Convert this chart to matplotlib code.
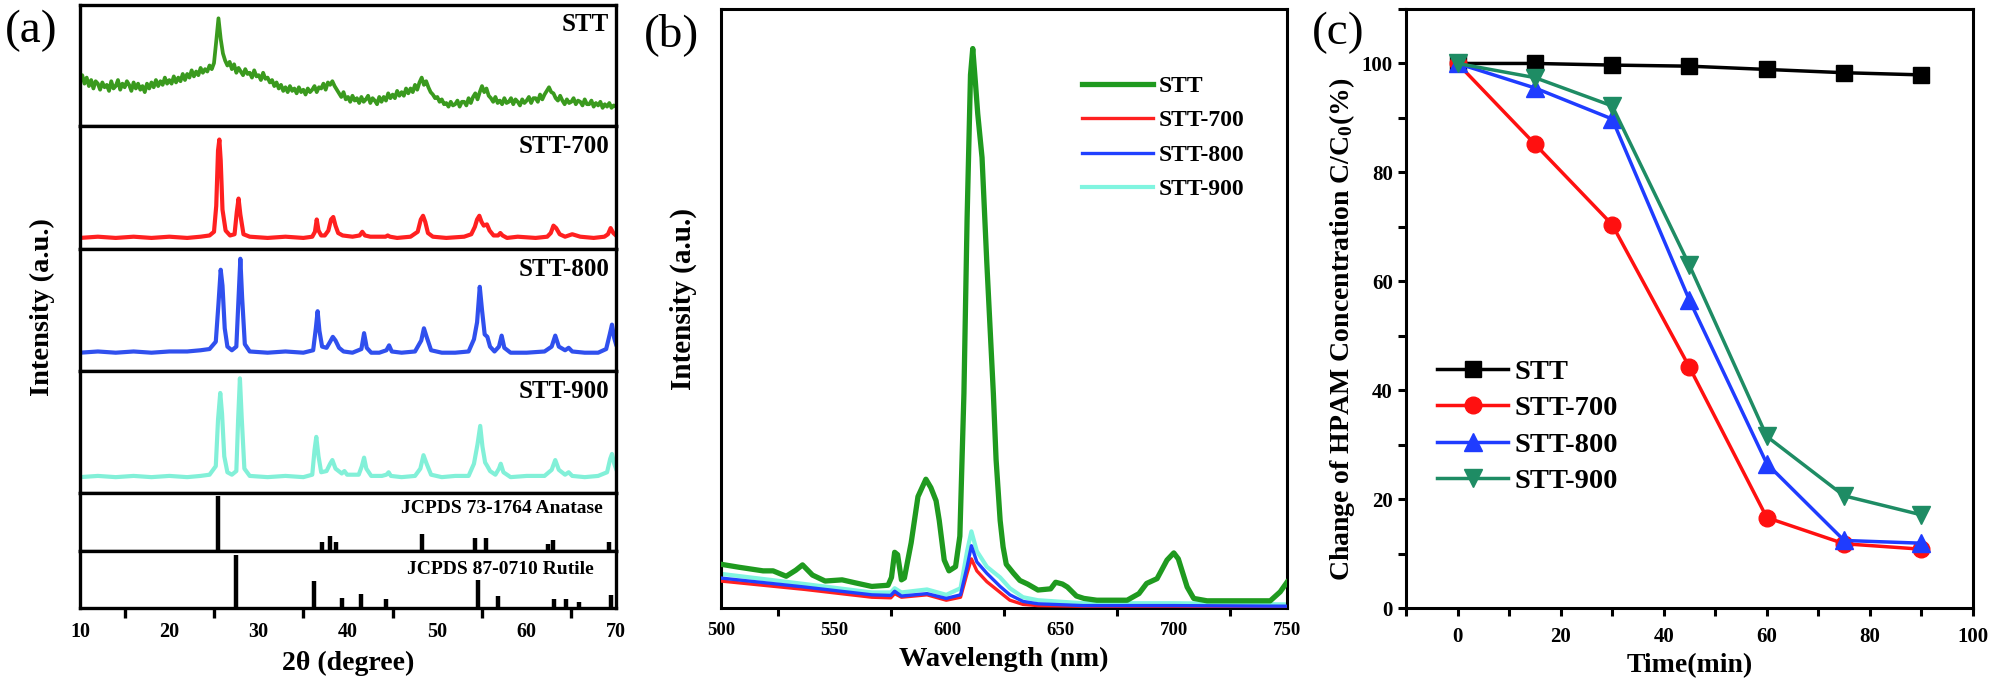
import numpy as np
import matplotlib.pyplot as plt
from matplotlib.ticker import MultipleLocator

plt.rcParams['font.family'] = ['Liberation Serif', 'DejaVu Serif']
plt.rcParams['font.weight'] = 'bold'
plt.rcParams['mathtext.fontset'] = 'custom'
plt.rcParams['mathtext.rm'] = 'Liberation Serif:bold'
plt.rcParams['mathtext.it'] = 'Liberation Serif:bold'

# ---------------- (a) XRD data (intensity in % of each strip) ----------------
xrd_grid = np.arange(10, 70.001, 0.25)
stt_xrd = [38, 42, 35, 40, 33, 38, 31, 37, 35, 30, 36, 32, 34, 29, 37, 31,
           33, 38, 30, 35, 32, 37, 34, 29, 36, 31, 35, 30, 33, 28, 35, 31,
           36, 32, 38, 33, 37, 34, 40, 35, 38, 35, 41, 36, 40, 37, 43, 38,
           43, 40, 46, 41, 45, 42, 48, 44, 47, 45, 50, 47, 52, 70, 89, 72,
           60, 54, 50, 53, 47, 51, 44, 48, 45, 42, 47, 43, 44, 40, 46, 41,
           42, 38, 44, 39, 40, 36, 38, 33, 36, 31, 34, 29, 32, 28, 33, 29,
           31, 27, 32, 28, 30, 26, 31, 28, 30, 33, 28, 32, 31, 35, 30, 36,
           34, 37, 33, 30, 27, 24, 28, 22, 24, 20, 25, 21, 23, 19, 24, 20,
           22, 25, 19, 23, 21, 18, 24, 20, 24, 21, 27, 23, 26, 23, 29, 25,
           28, 25, 31, 27, 31, 28, 34, 30, 36, 40, 34, 37, 32, 28, 26, 23,
           24, 20, 22, 18, 19, 16, 20, 17, 18, 21, 16, 20, 20, 17, 23, 19,
           24, 27, 22, 28, 33, 28, 31, 25, 23, 20, 24, 19, 21, 18, 23, 19,
           20, 23, 18, 22, 20, 17, 22, 19, 21, 24, 19, 23, 23, 20, 26, 22,
           26, 29, 32, 28, 27, 23, 21, 25, 21, 18, 22, 19, 20, 23, 18, 21,
           20, 17, 22, 18, 18, 21, 16, 19, 17, 20, 15, 18, 16, 19, 15, 17, 16]

stt700_pts = [(10, 9), (12, 10), (14, 9), (16, 10), (18, 9), (20, 10), (22, 9),
              (23.5, 10), (24.5, 11), (25.0, 14), (25.25, 35), (25.45, 80),
              (25.6, 89), (25.75, 72), (25.95, 32), (26.3, 15), (26.8, 11),
              (27.3, 12), (27.55, 30), (27.75, 41), (27.95, 28), (28.3, 12),
              (29, 10), (31, 9), (33, 10), (35, 9), (36.0, 10), (36.3, 14),
              (36.5, 24), (36.7, 15), (37.0, 11), (37.4, 11), (37.8, 15),
              (38.1, 24), (38.35, 26), (38.6, 19), (38.9, 13), (39.4, 11),
              (40.5, 10), (41.3, 11), (41.6, 14), (41.9, 11), (42.5, 10),
              (43.5, 10), (44.2, 10), (44.45, 11), (44.7, 10), (45.5, 9),
              (47, 10), (47.8, 14), (48.15, 24), (48.4, 27), (48.65, 22),
              (48.95, 13), (49.5, 10), (51, 9), (53, 10), (53.8, 12), (54.2, 18),
              (54.45, 24), (54.7, 27), (54.95, 22), (55.2, 19), (55.55, 20),
              (55.85, 15), (56.3, 11), (56.8, 11), (57.05, 13), (57.3, 11),
              (57.8, 9), (59, 10), (61, 9), (62.3, 10), (62.7, 13), (63.0, 19),
              (63.3, 17), (63.7, 12), (64.3, 10), (64.7, 11), (65.1, 12),
              (66, 10), (67.5, 9), (68.7, 10), (69.1, 12), (69.4, 17),
              (69.7, 13), (70, 11)]

stt800_pts = [(10, 15), (12, 16), (14, 15), (16, 16), (18, 15), (20, 16), (22, 16),
              (23.5, 17), (24.5, 18), (25.2, 24), (25.5, 55), (25.75, 83),
              (25.95, 70), (26.2, 35), (26.5, 20), (27.0, 17), (27.5, 20),
              (27.75, 60), (27.95, 92), (28.15, 60), (28.45, 22), (29, 16),
              (31, 15), (33, 16), (35, 15), (36.1, 17), (36.4, 35), (36.6, 49),
              (36.8, 33), (37.1, 20), (37.6, 19), (38.0, 24), (38.3, 28),
              (38.6, 25), (39.0, 19), (39.5, 16), (40.5, 15), (41.5, 18),
              (41.8, 31), (42.1, 19), (42.6, 15), (43.5, 15), (44.3, 17),
              (44.6, 21), (44.9, 16), (46, 15), (47.5, 16), (48.2, 25), (48.5, 35),
              (48.8, 28), (49.3, 17), (50.5, 15), (52, 15), (53.5, 16), (54.1, 26),
              (54.45, 40), (54.75, 69), (55.0, 50), (55.3, 30), (55.6, 28),
              (55.9, 20), (56.4, 16), (56.9, 20), (57.2, 29), (57.5, 19),
              (58.2, 15), (60, 15), (62, 16), (62.8, 20), (63.2, 29), (63.6, 20),
              (64.3, 17), (64.7, 19), (65.1, 16), (66.5, 15), (68, 15),
              (68.9, 18), (69.3, 30), (69.55, 38), (69.8, 27), (70, 22)]

stt900_pts = [(10, 13), (12, 14), (14, 13), (16, 14), (18, 13), (20, 14), (22, 13),
              (23.5, 14), (24.5, 15), (25.2, 22), (25.45, 60), (25.7, 82),
              (25.9, 65), (26.15, 30), (26.5, 17), (27.0, 15), (27.5, 18),
              (27.7, 60), (27.9, 94), (28.1, 62), (28.4, 20), (29, 14), (31, 13),
              (33, 14), (35, 13), (36.0, 15), (36.25, 35), (36.45, 46), (36.7, 30),
              (37.0, 17), (37.6, 18), (38.0, 24), (38.25, 27), (38.6, 20),
              (39.3, 16), (39.6, 18), (39.9, 15), (41.2, 15), (41.55, 22),
              (41.8, 29), (42.05, 20), (42.6, 14), (43.8, 14), (44.3, 15),
              (44.55, 17), (44.8, 14), (46, 13), (47.5, 14), (48.1, 20),
              (48.45, 31), (48.8, 24), (49.3, 15), (50.5, 13), (52, 14),
              (53.5, 14), (54.1, 24), (54.5, 40), (54.8, 55), (55.05, 38),
              (55.35, 25), (55.6, 22), (55.9, 18), (56.5, 15), (56.9, 20),
              (57.1, 24), (57.4, 17), (58.2, 13), (60, 14), (62, 14), (62.8, 19),
              (63.2, 27), (63.6, 19), (64.3, 15), (64.7, 17), (65.1, 14),
              (66.5, 13), (68, 14), (69.0, 17), (69.35, 28), (69.55, 32),
              (69.8, 24), (70, 20)]

anatase_pos = [25.4, 37.1, 38.0, 38.7, 48.3, 54.2, 55.4, 62.4, 62.9, 69.2]
anatase_int = [94, 16, 26, 16, 30, 22, 22, 12, 19, 15]
rutile_pos = [27.5, 36.2, 39.3, 41.4, 44.2, 54.6, 56.8, 63.1, 64.4, 65.9, 69.4]
rutile_int = [93, 48, 17, 25, 15, 50, 21, 16, 16, 10, 23]

xrd_names = ['STT', 'STT-700', 'STT-800', 'STT-900']
xrd_colors = ['#3a9a1e', '#ff2020', '#3050ee', '#82f0d8']

# ---------------- (b) PL data (% of axis height) ----------------
pl_green_x = [500, 508, 518.6, 523, 528.8, 533, 536, 540.4, 546, 553.5,
              559.3, 566.6, 573.8, 575.3, 576.7, 578, 579.7, 581, 584, 587,
              590.5, 592.7, 595, 596.4, 598.6, 600.7, 603.6, 605.5, 607.3, 608.7,
              610.2, 611.2, 612.4, 613.4, 615.3, 617.4, 620.3, 621.5, 623.3, 624.6,
              626, 629.2, 632, 635.4, 640, 645.6, 647.8, 650.8, 653, 657,
              660.3, 666, 679.4, 684.6, 688, 692.6, 697, 700, 702, 705.9,
              708.8, 714.7, 727.5, 742.6, 747, 750]
pl_green_y = [7.3, 6.8, 6.2, 6.2, 5.3, 6.3, 7.2, 5.5, 4.5, 4.7,
              4.2, 3.6, 3.8, 5.1, 9.3, 8.9, 4.7, 5.0, 10.9, 18.6,
              21.5, 20.1, 17.9, 14.6, 8.0, 6.2, 6.9, 12.0, 35.8, 65,
              89, 93.4, 87.6, 82.5, 75.2, 57.7, 35.8, 24.8, 14.6, 10.2,
              7.3, 5.8, 4.6, 4.0, 3.0, 3.2, 4.3, 4.0, 3.5, 2.0,
              1.6, 1.3, 1.3, 2.4, 4.1, 4.9, 8.0, 9.2, 8.2, 3.5,
              1.6, 1.2, 1.2, 1.2, 2.7, 4.3]
pl_x = [500, 537, 566.6, 575, 576.7, 579.7, 591, 599.5, 605.8, 608.7,
        610.6, 613, 617.4, 623.3, 627.6, 633.4, 640, 660, 700, 750]
pl_700 = [4.5, 3.1, 1.8, 1.7, 2.4, 1.8, 2.2, 1.3, 1.8, 5.8,
          8.2, 6.2, 4.4, 2.6, 1.3, 0.6, 0.4, 0.3, 0.3, 0.2]
pl_800 = [5.0, 3.5, 2.2, 2.1, 2.8, 2.0, 2.4, 1.6, 2.2, 6.9,
          10.4, 7.7, 5.8, 3.6, 2.2, 1.1, 0.7, 0.4, 0.4, 0.3]
pl_900 = [5.7, 4.0, 2.6, 2.6, 3.3, 2.6, 3.1, 2.2, 3.3, 9.5,
          12.8, 9.5, 6.9, 5.1, 3.3, 1.8, 1.3, 0.8, 0.8, 0.6]

# ---------------- (c) degradation data ----------------
time_min = [0, 15, 30, 45, 60, 75, 90]
c_stt = [100, 100, 99.7, 99.5, 98.9, 98.3, 97.9]
c_700 = [100, 85.2, 70.4, 44.2, 16.6, 11.8, 10.8]
c_800 = [100, 95.5, 89.8, 56.5, 26.5, 12.4, 11.9]
c_900 = [100, 97.4, 92.2, 62.9, 31.5, 20.6, 17.1]

W, H = 1996, 684
fig = plt.figure(figsize=(W / 100, H / 100), dpi=100)


def box(l, t, r, b):
    return [l / W, 1 - b / H, (r - l) / W, (b - t) / H]


# ---------------- panel (a) ----------------
tops = [5, 126, 249, 371, 493, 551]
bots = [126, 249, 371, 493, 551, 608]
axs = [fig.add_axes(box(80, t, 616, b)) for t, b in zip(tops, bots)]
for ax in axs:
    ax.set_xlim(10, 70)
    ax.set_ylim(0, 100)
    ax.set_yticks([])
    for s in ax.spines.values():
        s.set_linewidth(2.4)
    ax.tick_params(axis='x', which='both', bottom=False, labelbottom=False)

axs[0].plot(xrd_grid, stt_xrd, color=xrd_colors[0], lw=2.7)
for ax, pts, c in zip(axs[1:4], [stt700_pts, stt800_pts, stt900_pts], xrd_colors[1:]):
    xx, yy = zip(*pts)
    ax.plot(xx, yy, color=c, lw=3.0)
for ax, name in zip(axs[:4], xrd_names):
    ax.text(0.987, 0.835, name, transform=ax.transAxes, ha='right', va='center',
            fontsize=18, fontweight='bold')

axs[4].vlines(anatase_pos, 0, anatase_int, color='black', lw=3.2)
axs[4].text(0.787, 0.74, 'JCPDS 73-1764 Anatase', transform=axs[4].transAxes,
            ha='center', va='center', fontsize=14, fontweight='bold')
axs[5].vlines(rutile_pos, 0, rutile_int, color='black', lw=3.2)
axs[5].text(0.785, 0.684, 'JCPDS 87-0710 Rutile', transform=axs[5].transAxes,
            ha='center', va='center', fontsize=14, fontweight='bold')

ab = axs[5]
ab.tick_params(axis='x', which='both', bottom=True, labelbottom=True,
               direction='out', labelsize=14.5, width=2.4)
ab.tick_params(axis='x', which='major', length=0, pad=10)
ab.tick_params(axis='x', which='minor', length=7)
ab.xaxis.set_major_locator(MultipleLocator(10))
ab.xaxis.set_minor_locator(MultipleLocator(5))
fig.text(348 / W, 1 - 663 / H, '2θ (degree)', ha='center', va='center',
         fontsize=20, fontweight='bold')
fig.text(42 / W, 1 - 307 / H, 'Intensity (a.u.)', ha='center', va='center',
         rotation=90, fontsize=20.5, fontweight='bold')
fig.text(31 / W, 1 - 31 / H, '(a)', ha='center', va='center', fontsize=34,
         fontweight='normal')

# ---------------- panel (b) ----------------
bx = fig.add_axes(box(721, 9, 1287, 608))
bx.plot(pl_x, pl_700, color='#ff2020', lw=2.4, label='STT-700', zorder=3)
bx.plot(pl_x, pl_800, color='#2040ff', lw=2.4, label='STT-800', zorder=3)
bx.plot(pl_x, pl_900, color='#80f5e0', lw=3.0, label='STT-900', zorder=2)
bx.plot(pl_green_x, pl_green_y, color='#1f9a1f', lw=3.8, label='STT', zorder=4)
bx.set_xlim(500, 750)
bx.set_ylim(0, 100)
bx.set_yticks([])
for s in bx.spines.values():
    s.set_linewidth(2.2)
bx.xaxis.set_major_locator(MultipleLocator(50))
bx.xaxis.set_minor_locator(MultipleLocator(25))
bx.tick_params(axis='x', which='major', length=0, pad=10, labelsize=13.5)
bx.tick_params(axis='x', which='minor', length=6, width=2.2, direction='out')
h, l = bx.get_legend_handles_labels()
order = [3, 0, 1, 2]
bx.legend([h[i] for i in order], [l[i] for i in order], loc='center left',
          bbox_to_anchor=(0.638, 0.785), frameon=False, fontsize=17,
          handlelength=3.0, handletextpad=0.25, labelspacing=0.55,
          borderaxespad=0, borderpad=0)
bx.set_xlabel('Wavelength (nm)', fontsize=20.5, fontweight='bold', labelpad=6)
fig.text(683 / W, 1 - 299 / H, 'Intensity (a.u.)', ha='center', va='center',
         rotation=90, fontsize=21, fontweight='bold')
fig.text(672 / W, 1 - 35 / H, '(b)', ha='center', va='center', fontsize=34,
         fontweight='normal')

# ---------------- panel (c) ----------------
cx = fig.add_axes(box(1406, 9, 1973, 608))
cx.plot(time_min, c_stt, color='black', lw=2.5, marker='s', ms=11, label='STT')
cx.plot(time_min, c_700, color='#ff1010', lw=2.5, marker='o', ms=12, label='STT-700')
cx.plot(time_min, c_800, color='#1f3cff', lw=2.5, marker='^', ms=13, label='STT-800')
cx.plot(time_min, c_900, color='#1e8c64', lw=2.5, marker='v', ms=13, label='STT-900')
cx.set_xlim(-10, 100)
cx.set_ylim(0, 110)
for s in cx.spines.values():
    s.set_linewidth(2.2)
cx.xaxis.set_major_locator(MultipleLocator(20))
cx.xaxis.set_minor_locator(MultipleLocator(10))
cx.yaxis.set_major_locator(MultipleLocator(20))
cx.yaxis.set_minor_locator(MultipleLocator(10))
cx.tick_params(which='both', direction='out', width=2.2, labelsize=15, length=6)
cx.tick_params(axis='x', pad=8)
cx.legend(loc='center left', bbox_to_anchor=(0.055, 0.303), frameon=False,
          fontsize=20.5, handlelength=2.5, handletextpad=0.2, labelspacing=0.36,
          borderaxespad=0, borderpad=0)
cx.set_xlabel('Time(min)', fontsize=20, fontweight='bold', labelpad=4)
fig.text(1342 / W, 1 - 329 / H, r'Change of HPAM Concentration C/C$_0$(%)',
         ha='center', va='center', rotation=90, fontsize=20, fontweight='bold')
fig.text(1338 / W, 1 - 33 / H, '(c)', ha='center', va='center', fontsize=34,
         fontweight='normal')

for ax in axs + [bx, cx]:
    for lab in ax.get_xticklabels() + ax.get_yticklabels():
        lab.set_fontweight('bold')

fig.savefig('out.png', dpi=100)
